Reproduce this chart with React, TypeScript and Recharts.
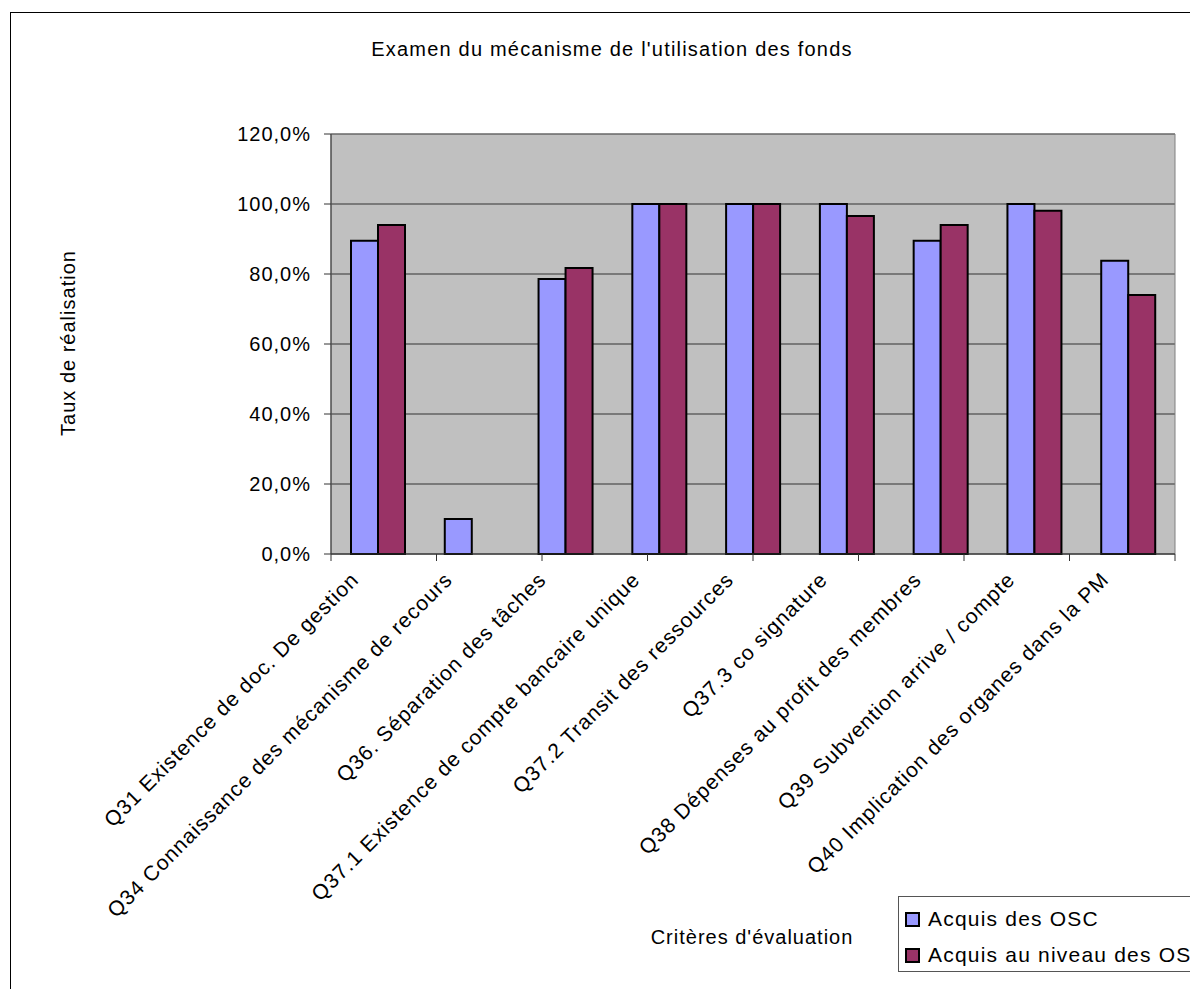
import React from 'react';
import { BarChart, Bar, XAxis, YAxis, CartesianGrid, ReferenceArea, Legend } from 'recharts';

const categories = [
  'Q31 Existence de doc. De gestion',
  'Q34 Connaissance des mécanisme de recours',
  'Q36. Séparation des tâches',
  'Q37.1 Existence de compte bancaire unique',
  'Q37.2 Transit des ressources',
  'Q37.3 co signature',
  'Q38 Dépenses au profit des membres',
  'Q39 Subvention arrive / compte',
  'Q40 Implication des organes dans la PM',
];
const acquisOSC = [0.895, 0.10, 0.786, 1.0, 1.0, 1.0, 0.895, 1.0, 0.838];
const acquisNiveau = [0.94, 0, 0.817, 1.0, 1.0, 0.966, 0.94, 0.981, 0.74];
const seriesNames = ['Acquis des OSC', 'Acquis au niveau des OSC'];
const seriesColors = ['#9999FF', '#993366'];
const yTicks = [0, 0.2, 0.4, 0.6, 0.8, 1.0, 1.2];
const boundaryTicks = [0, 1, 2, 3, 4, 5, 6, 7, 8, 9];

const data = categories.map((c, i) => ({ name: c, osc: acquisOSC[i], niveau: acquisNiveau[i] }));

const FONT = '"Liberation Sans", Arial, sans-serif';

const XTick = (props: any) => {
  const { x, y, payload } = props;
  const ax = x - 18;
  const ay = y + 20;
  return (
    <text x={ax} y={ay} transform={`rotate(-45, ${ax}, ${ay})`} textAnchor="end"
      fontFamily={FONT} fontSize={21} letterSpacing={1} fill="#000">
      {payload.value}
    </text>
  );
};

const fmt = (v: number) => (v * 100).toFixed(1).replace('.', ',') + '%';

const LegendContent = () => (
  <div style={{ border: '1px solid #555', width: 320, height: 76, background: '#fff', boxSizing: 'border-box', fontFamily: FONT, fontSize: 21, letterSpacing: 1.2, color: '#000' }}>
    {seriesNames.map((n, i) => (
      <div key={n} style={{ position: 'absolute', left: 7, top: 11 + i * 36, display: 'flex', alignItems: 'center', whiteSpace: 'nowrap' }}>
        <span style={{ display: 'inline-block', width: 11, height: 11, border: '2px solid #000', background: seriesColors[i], marginRight: 8 }} />
        <span>{n}</span>
      </div>
    ))}
  </div>
);

export default function App() {
  return (
    <div style={{ position: 'fixed', left: 0, top: 0, width: 1190, height: 989, overflow: 'hidden', background: '#fff' }}>
      <div style={{ position: 'absolute', left: 10, top: 12, width: 1400, height: 1200, border: '1px solid #000' }} />
      <div style={{ position: 'absolute', left: 0, top: 0 }}>
        <BarChart width={1190} height={989} data={data} margin={{ top: 134, right: 15, bottom: 0, left: 0 }}
          barCategoryGap={20} barGap={0}>
          <CartesianGrid horizontal vertical={false} fill="#C0C0C0" stroke="#333" strokeOpacity={1} />
          <XAxis type="number" domain={[0, 9]} allowDataOverflow ticks={boundaryTicks}
            tickFormatter={() => ''} axisLine={{ stroke: '#333' }} tickLine={{ stroke: '#333' }} tickSize={7} height={7} />
          <XAxis xAxisId="cat" dataKey="name" type="category" interval={0} tick={<XTick />} tickLine={false}
            tickSize={0} tickMargin={0} axisLine={false} height={428} />
          <YAxis domain={[0, 1.2]} ticks={yTicks} tickFormatter={fmt} width={331} tickSize={7} tickMargin={13}
            axisLine={{ stroke: '#333' }} tickLine={{ stroke: '#333' }}
            tick={{ fontFamily: FONT, fontSize: 20, fill: '#000', letterSpacing: 1 }} />
          <ReferenceArea y1={0} y2={1.2} fill="none" stroke="#808080" strokeWidth={1} ifOverflow="extendDomain" />
          <Bar xAxisId="cat" dataKey="osc" name={seriesNames[0]} fill={seriesColors[0]} stroke="#000" strokeWidth={2} isAnimationActive={false} />
          <Bar xAxisId="cat" dataKey="niveau" name={seriesNames[1]} fill={seriesColors[1]} stroke="#000" strokeWidth={2} isAnimationActive={false} />
          <Legend layout="horizontal" verticalAlign="middle" align="center" content={<LegendContent />}
            wrapperStyle={{ position: 'absolute', left: 898, top: 896, width: 320 }} />
        </BarChart>
      </div>
      <div style={{ position: 'absolute', left: 0, width: 1224, top: 38, textAlign: 'center', fontFamily: FONT, fontSize: 20, letterSpacing: 1.2, color: '#000', whiteSpace: 'nowrap' }}>
        Examen du mécanisme de l'utilisation des fonds
      </div>
      <div style={{ position: 'absolute', left: 752, top: 937, transform: 'translate(-50%, -50%)', fontFamily: FONT, fontSize: 20, letterSpacing: 1, color: '#000', whiteSpace: 'nowrap' }}>
        Critères d'évaluation
      </div>
      <div style={{ position: 'absolute', left: 68, top: 343, transform: 'translate(-50%, -50%) rotate(-90deg)', fontFamily: FONT, fontSize: 20, letterSpacing: 1, color: '#000', whiteSpace: 'nowrap' }}>
        Taux de réalisation
      </div>
    </div>
  );
}
